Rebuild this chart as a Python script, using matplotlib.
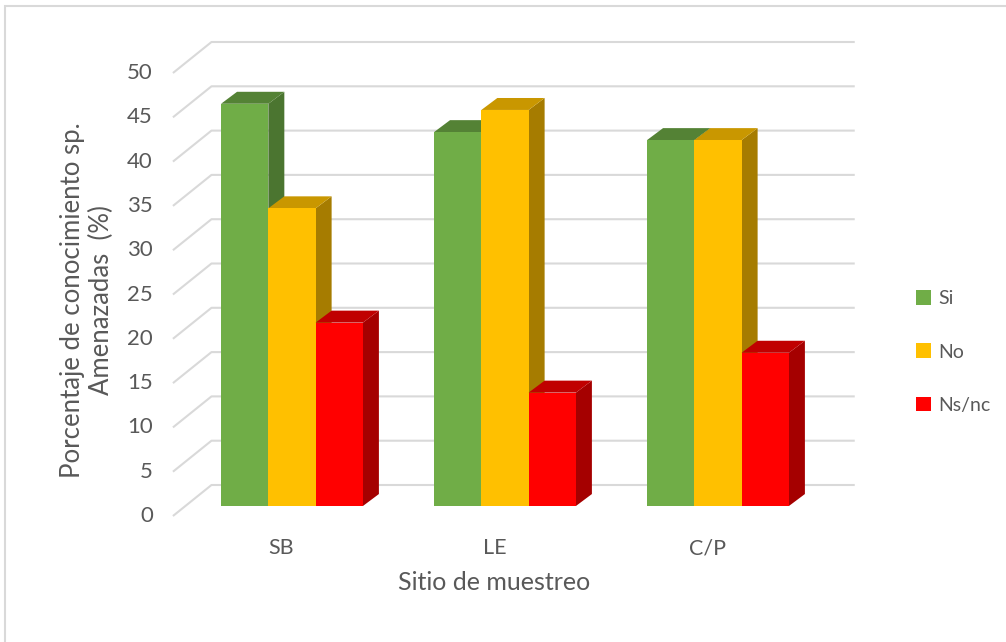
import matplotlib
matplotlib.use("Agg")
import matplotlib.pyplot as plt
from matplotlib.patches import Polygon, Patch, Rectangle

# ---- data ----
categories = ["SB", "LE", "C/P"]
series_names = ["Si", "No", "Ns/nc"]
si_values = [45.4, 42.2, 41.3]
no_values = [33.6, 44.7, 41.3]
nsnc_values = [20.7, 12.8, 17.3]
y_ticks = [0, 5, 10, 15, 20, 25, 30, 35, 40, 45, 50]

# ---- style ----
front_colors = ["#70AD47", "#FFC000", "#FF0000"]
top_colors = ["#548235", "#C99700", "#C00000"]
side_colors = ["#4B7530", "#A67C00", "#A50000"]
grid_color = "#D9D9D9"
text_color = "#595959"
plt.rcParams["font.family"] = ["Lato", "DejaVu Sans"]

W, H = 1006, 642
fig = plt.figure(figsize=(W / 100, H / 100), dpi=100)
fig.patch.set_facecolor("white")

# axes mapping (oblique projection drawn in data units)
xlim = (-0.7, 2.75)
ylim = (-3.0, 54.0)
px_per_x, x0px = 213.0, 292.0
px_per_y, y0px = 8.86, 506.0
left_px = x0px + px_per_x * xlim[0]
right_px = x0px + px_per_x * xlim[1]
top_px = y0px - px_per_y * ylim[1]
bot_px = y0px - px_per_y * ylim[0]
ax = fig.add_axes([left_px / W, 1 - bot_px / H, (right_px - left_px) / W, (bot_px - top_px) / H])
ax.set_xlim(*xlim)
ax.set_ylim(*ylim)
ax.axis("off")

# depth offsets (data units)
bar_d = (0.075, 1.35)      # bar depth
wall_d = (0.122, 2.37)     # back wall relative to bar front plane
front_d = (-0.059, -1.13)  # floor front edge relative to bar front plane
x_left, x_right = -0.5, 2.52

# gridlines
for v in y_ticks:
    xa, ya = x_left + front_d[0], v + front_d[1]
    xb, yb = x_left + wall_d[0], v + wall_d[1]
    ax.plot([xa, xb, x_right + wall_d[0]], [ya, yb, yb], color=grid_color, lw=1.5,
            solid_capstyle="butt", zorder=1)
    ax.annotate(str(v), (xa, ya), xytext=(-20, 0), textcoords="offset pixels",
                ha="right", va="center", fontsize=16, color=text_color)

# bars
all_values = [si_values, no_values, nsnc_values]
bar_w = 0.222
z = 2
for ci, cat in enumerate(categories):
    for si in range(3):
        v = all_values[si][ci]
        x0 = ci + (si - 1) * bar_w - bar_w / 2
        x1 = x0 + bar_w
        dx, dy = bar_d
        side = Polygon([(x1, 0), (x1 + dx, dy), (x1 + dx, v + dy), (x1, v)], closed=True,
                       facecolor=side_colors[si], edgecolor="none", zorder=z)
        top = Polygon([(x0, v), (x0 + dx, v + dy), (x1 + dx, v + dy), (x1, v)], closed=True,
                      facecolor=top_colors[si], edgecolor="none", zorder=z)
        ax.add_patch(side)
        ax.add_patch(top)
        ax.bar(x0, v, width=bar_w, align="edge", color=front_colors[si], edgecolor="none",
               zorder=z + 0.5)
        z += 1
    ax.annotate(cat, (ci + front_d[0], front_d[1]), xytext=(2, -32), textcoords="offset pixels",
                ha="center", va="center", fontsize=15.5, color=text_color)

# axis titles
fig.text(87 / W, 1 - 300 / H, "Porcentaje de conocimiento sp.\nAmenazadas  (%)", rotation=90,
         ha="center", va="center", multialignment="center", fontsize=18.5, color=text_color,
         linespacing=1.15)
fig.text(494 / W, 1 - 583 / H, "Sitio de muestreo", ha="center", va="center", fontsize=18,
         color=text_color)

# legend
handles = [Patch(facecolor=c, edgecolor="none") for c in front_colors]
leg = fig.legend(handles, series_names, loc="center left", bbox_to_anchor=(898 / W, 1 - 352 / H),
                 frameon=False, fontsize=14, handlelength=0.8, handleheight=0.8,
                 handletextpad=0.35, labelspacing=1.85)
for t in leg.get_texts():
    t.set_color(text_color)

# chart border
fig.patches.append(Rectangle((5 / W, -0.1), 1.2, 1 - 6 / H + 0.1, transform=fig.transFigure,
                             fill=False, edgecolor=grid_color, lw=1.5))

fig.savefig("out.png", dpi=100)
